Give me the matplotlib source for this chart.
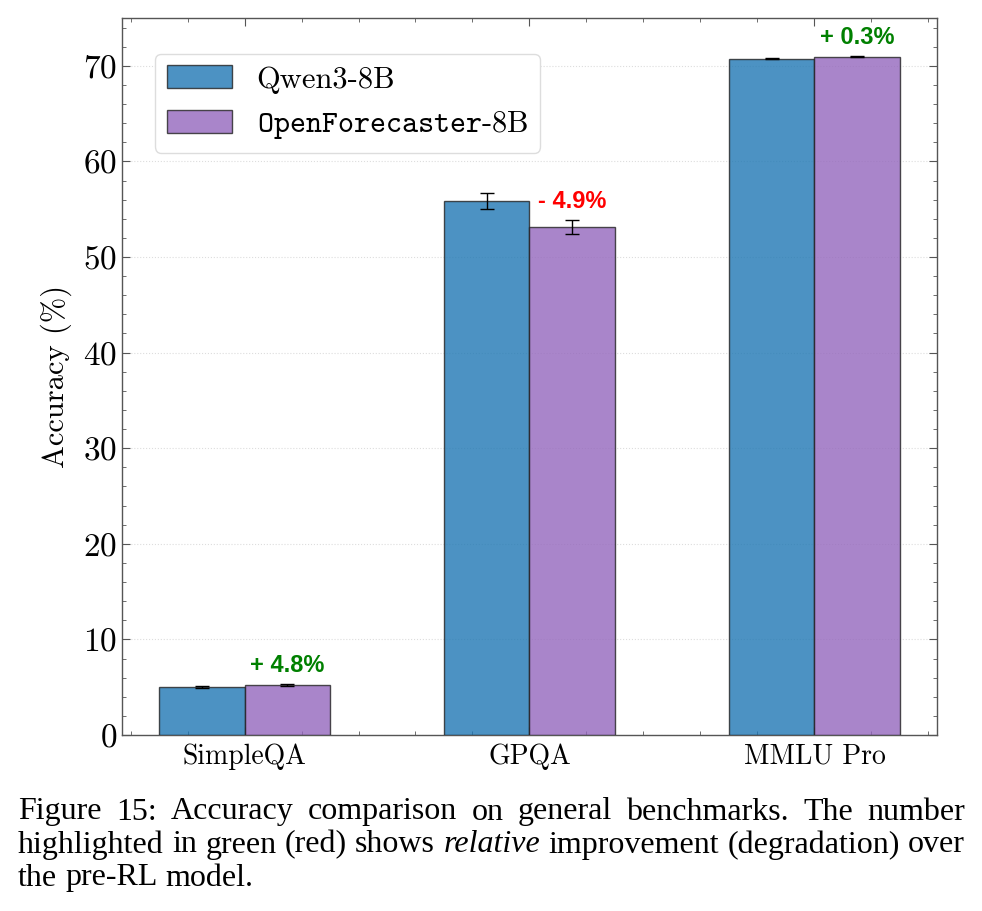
import matplotlib
matplotlib.use("Agg")
import matplotlib.pyplot as plt
import numpy as np
from matplotlib.ticker import MultipleLocator
from matplotlib import font_manager as fm

plt.rcParams['font.family'] = ['cmr10', 'DejaVu Serif']
plt.rcParams['mathtext.fontset'] = 'cm'
plt.rcParams['axes.formatter.use_mathtext'] = True

# ---- data ----
benchmarks = ["SimpleQA", "GPQA", "MMLU Pro"]
qwen_acc = [4.98, 55.87, 70.75]
qwen_err = [0.10, 0.80, 0.05]
of_acc = [5.22, 53.15, 70.97]
of_err = [0.08, 0.73, 0.05]
rel_change = ["+ 4.8%", "- 4.9%", "+ 0.3%"]
change_colors = ["green", "red", "green"]
series_labels = ["Qwen3-8B", r"$\mathtt{OpenForecaster}$-8B"]
caption_lines = [
    "Figure 15: Accuracy comparison on general benchmarks.  The number",
    "highlighted in green (red) shows |relative| improvement (degradation) over",
    "the pre-RL model.",
]

blue = (31/255, 119/255, 180/255)
purple = (148/255, 103/255, 189/255)

names = {f.name for f in fm.fontManager.ttflist}
if 'DejaVu Sans Condensed' in names:
    ann_family = ['DejaVu Sans Condensed']
    ann_size = 19
elif 'Liberation Sans Narrow' in names:
    ann_family = ['Liberation Sans Narrow']
    ann_size = 21
else:
    ann_family = ['Liberation Sans']
    ann_size = 17

fig = plt.figure(figsize=(9.82, 9.11), dpi=100)
ax = fig.add_axes([0.1242, 0.1932, 0.83, 0.787])

x = np.arange(len(benchmarks))
w = 0.3
ax.bar(x - w/2, qwen_acc, w, yerr=qwen_err, color=blue, alpha=0.8,
       edgecolor='#222222', linewidth=1.0, capsize=5,
       error_kw=dict(ecolor='black', elinewidth=1.0, capthick=1.0),
       label=series_labels[0], zorder=3)
ax.bar(x + w/2, of_acc, w, yerr=of_err, color=purple, alpha=0.8,
       edgecolor='#222222', linewidth=1.0, capsize=5,
       error_kw=dict(ecolor='black', elinewidth=1.0, capthick=1.0),
       label=series_labels[1], zorder=3)

for i in range(len(benchmarks)):
    ax.text(x[i] + w/2, of_acc[i] + of_err[i] + 0.75, rel_change[i],
            ha='center', va='bottom', color=change_colors[i],
            fontsize=ann_size, fontweight='bold', family=ann_family, zorder=5)

ax.set_xlim(-0.43, 2.43)
ax.set_ylim(0, 75)
ax.set_xticks(x)
ax.set_xticklabels(benchmarks, fontsize=20)
ax.yaxis.set_major_locator(MultipleLocator(10))
ax.yaxis.set_minor_locator(MultipleLocator(2))
ax.xaxis.set_minor_locator(MultipleLocator(0.2))
ax.tick_params(axis='both', which='both', direction='in', top=True, right=True,
               color='#555555')
ax.tick_params(axis='both', which='major', length=6)
ax.tick_params(axis='both', which='minor', length=3)
ax.tick_params(axis='y', labelsize=24)
ax.tick_params(axis='x', pad=6)
for s in ax.spines.values():
    s.set_color('#555555')
    s.set_linewidth(1.0)
ax.yaxis.grid(True, linestyle=':', color='#dddddd', linewidth=0.8, zorder=0)
ax.set_axisbelow(True)
ax.set_ylabel("Accuracy (%)", fontsize=22, labelpad=8)

leg = ax.legend(loc='upper left', bbox_to_anchor=(0.0405, 0.950), fontsize=22,
                handlelength=2.15, handleheight=0.78, handletextpad=0.8,
                labelspacing=0.5, borderpad=0.38, borderaxespad=0.0,
                framealpha=1.0, edgecolor='#dddddd', fancybox=True)

# caption with justified lines
fig.canvas.draw()
renderer = fig.canvas.get_renderer()
cap_font = dict(family='Liberation Serif', fontsize=23)
x0, x1 = 18 / 982, 965 / 982
ys = [1 - 812 / 911, 1 - 845 / 911, 1 - 878 / 911]
for li, line in enumerate(caption_lines):
    words = line.split()
    texts = []
    for wd in words:
        style = 'normal'
        if wd.startswith('|') and wd.endswith('|'):
            wd = wd.strip('|')
            style = 'italic'
        t = fig.text(0, ys[li], wd, va='center', ha='left', style=style, **cap_font)
        texts.append(t)
    widths = [t.get_window_extent(renderer).width / fig.bbox.width for t in texts]
    if li < len(caption_lines) - 1:
        gap = (x1 - x0 - sum(widths)) / (len(texts) - 1)
    else:
        sp = fig.text(0, 0, "a a", **cap_font)
        sa = fig.text(0, 0, "aa", **cap_font)
        gap = (sp.get_window_extent(renderer).width - sa.get_window_extent(renderer).width) / fig.bbox.width
        sp.remove(); sa.remove()
    cx = x0
    for t, wdt in zip(texts, widths):
        t.set_x(cx)
        cx += wdt + gap

fig.savefig("out.png", dpi=100)
